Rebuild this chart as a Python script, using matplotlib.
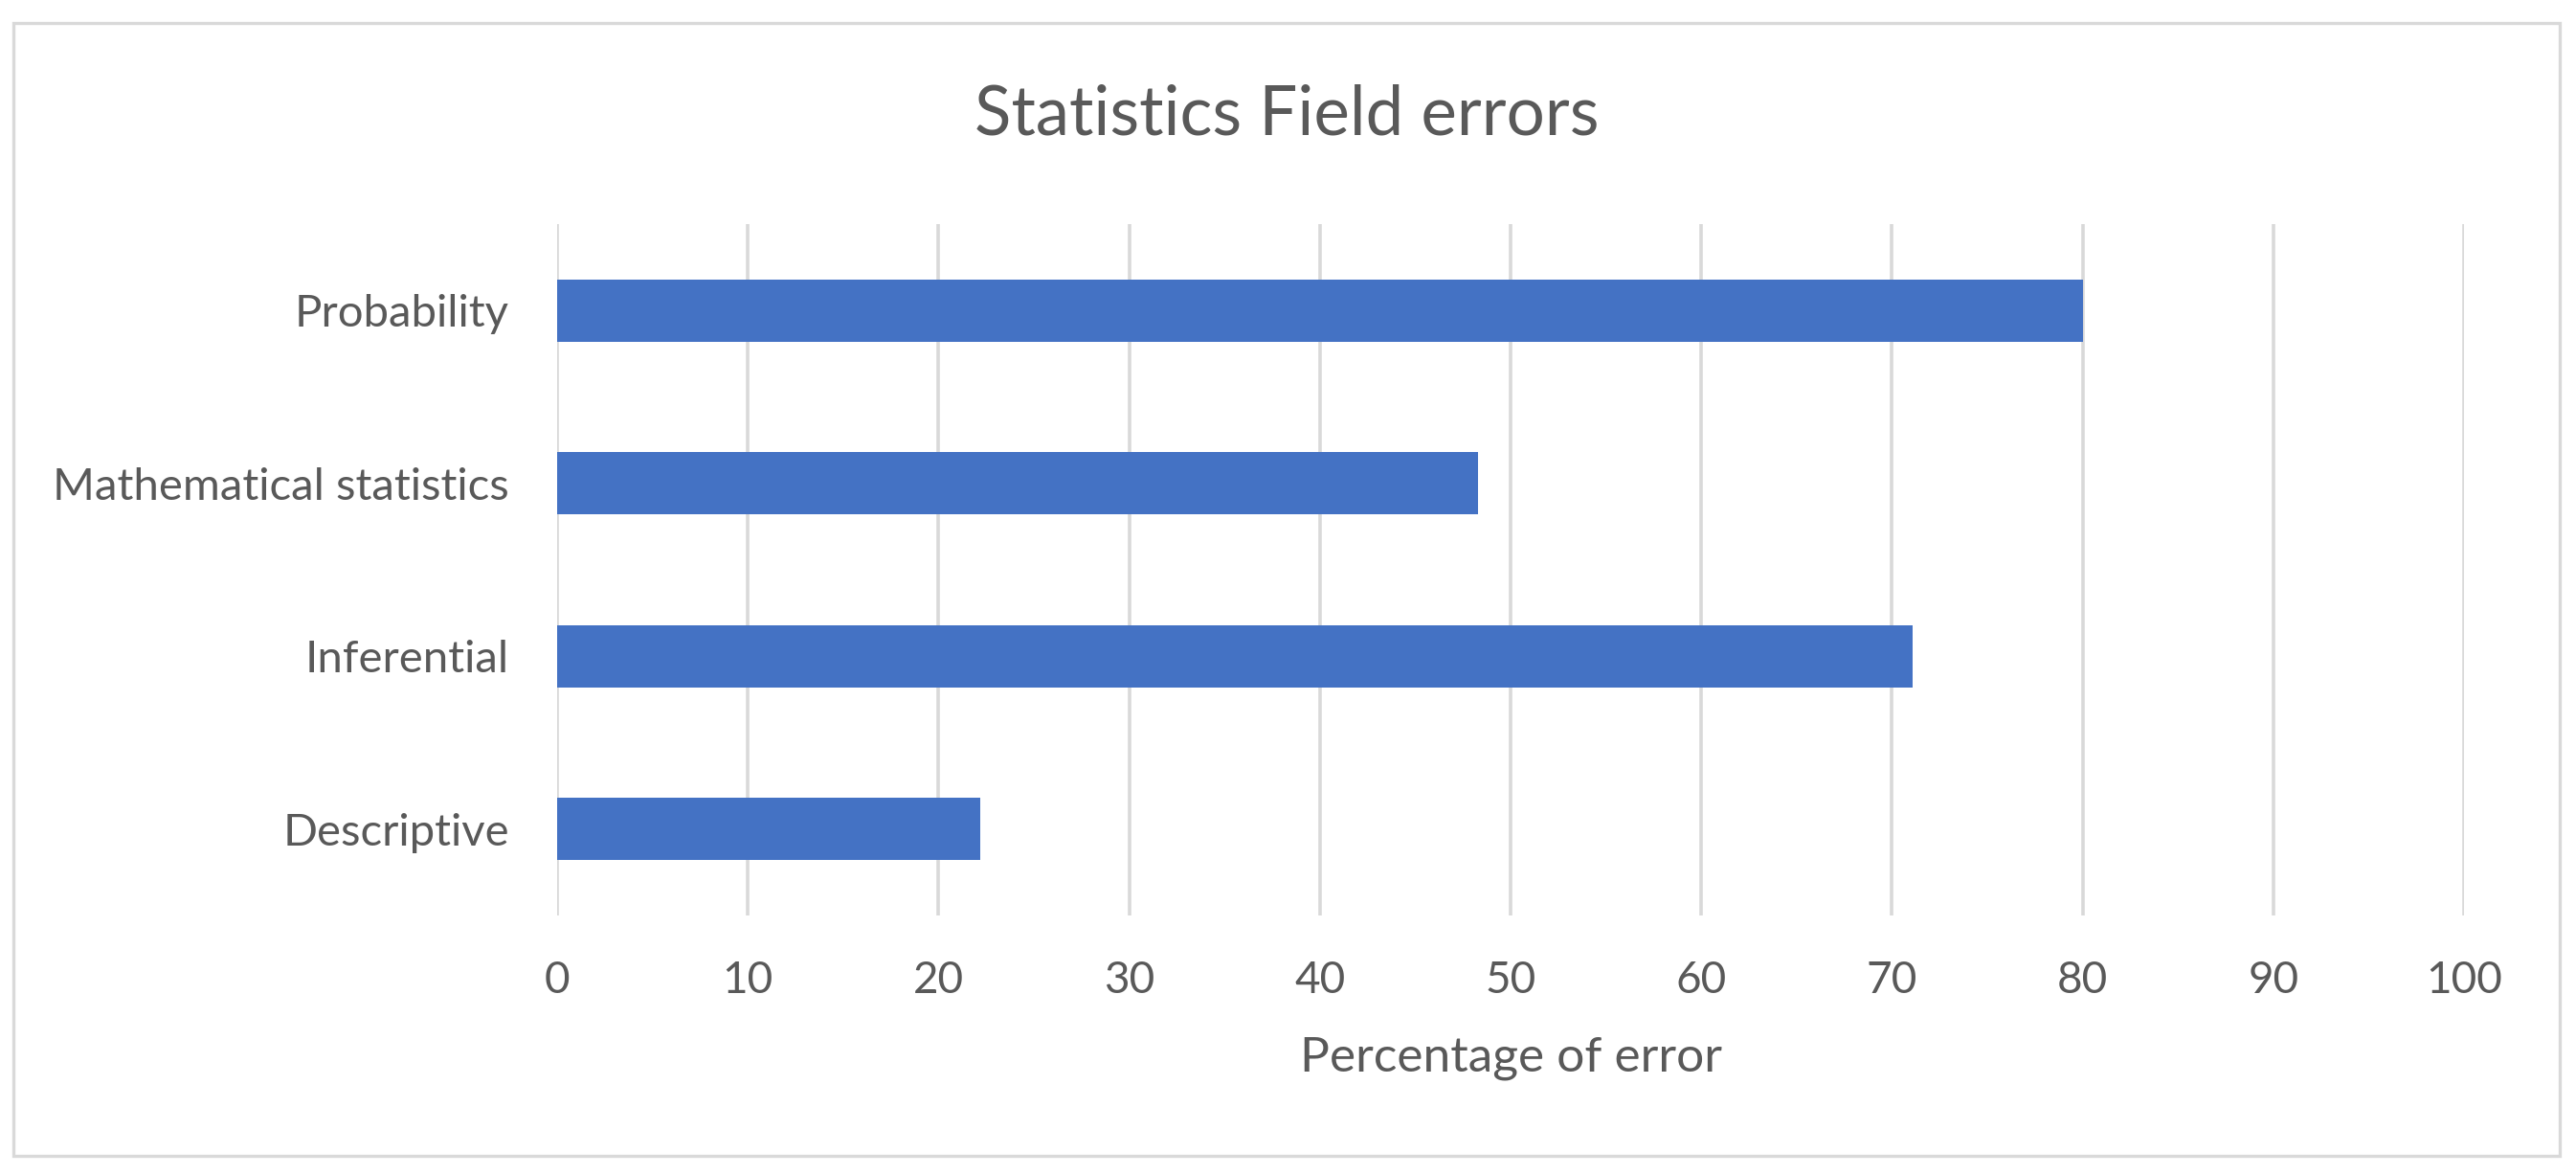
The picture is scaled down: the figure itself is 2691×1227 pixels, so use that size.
import matplotlib
matplotlib.use("Agg")
import matplotlib.pyplot as plt
from matplotlib.patches import Rectangle

categories = ["Descriptive", "Inferential", "Mathematical statistics", "Probability"]
values = [22.2, 71.1, 48.3, 80.0]
xticks = [0, 10, 20, 30, 40, 50, 60, 70, 80, 90, 100]

plt.rcParams['font.family'] = ['Lato', 'DejaVu Sans']
TXT = "#595959"

fig = plt.figure(figsize=(26.91, 12.27), dpi=100)
fig.patch.set_facecolor("white")
ax = fig.add_axes([582/2691, 1-956/1227, (2574-582)/2691, (956-234)/1227])

ax.barh(range(len(categories)), values, height=0.36, color="#4472C4", zorder=3)
ax.set_xlim(0, 100)
ax.set_ylim(-0.5, len(categories)-0.5)
ax.set_xticks(xticks)
ax.set_xticklabels([str(t) for t in xticks])
ax.set_yticks(range(len(categories)))
ax.set_yticklabels(categories)
ax.tick_params(axis='both', length=0, labelcolor=TXT)
ax.tick_params(axis='x', pad=34, labelsize=33)
ax.tick_params(axis='y', pad=36, labelsize=34)
ax.grid(axis='x', color="#d9d9d9", linewidth=2.6, zorder=0)
for s in ax.spines.values():
    s.set_visible(False)

fig.text(0.5*(582+2574)/2691, 1-1105/1227, "Percentage of error", ha='center', va='center',
         fontsize=37, color=TXT)
fig.text(0.5*(590+977)/1568, 1-120/1227, "Statistics Field errors", ha='center', va='center',
         fontsize=51, color=TXT)

fig.add_artist(Rectangle((14/2691, 1-1207/1227), (2674-14)/2691, (1207-24)/1227,
                         transform=fig.transFigure, fill=False, edgecolor="#d9d9d9",
                         linewidth=2.4))

fig.savefig("out.png", dpi=100)
